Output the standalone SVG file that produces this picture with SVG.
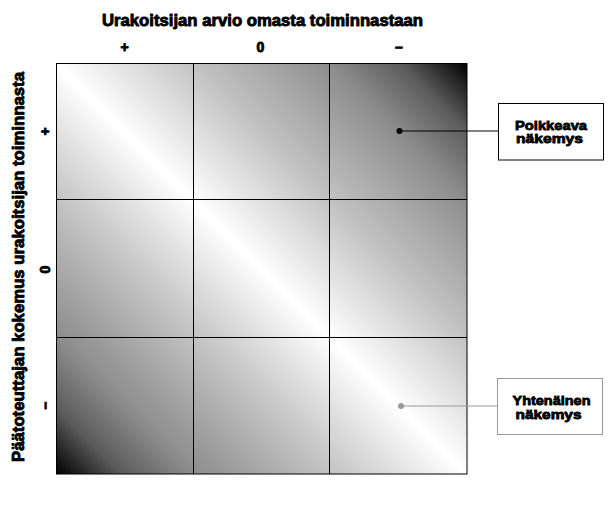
<svg xmlns="http://www.w3.org/2000/svg" width="615" height="513" viewBox="0 0 615 513">
<defs>
<linearGradient id="diag" gradientUnits="userSpaceOnUse" x1="56" y1="474" x2="467" y2="63">
<stop offset="0" stop-color="#000"/>
<stop offset="0.083" stop-color="#5c5c5c"/>
<stop offset="0.167" stop-color="#8c8c8c"/>
<stop offset="0.333" stop-color="#c2c2c2"/>
<stop offset="0.5" stop-color="#fff"/>
<stop offset="0.667" stop-color="#c2c2c2"/>
<stop offset="0.833" stop-color="#8c8c8c"/>
<stop offset="0.917" stop-color="#5c5c5c"/>
<stop offset="1" stop-color="#000"/>
</linearGradient>
</defs>
<style>
text{font-family:"Liberation Sans",Arial,sans-serif;font-weight:bold;fill:#000;stroke:#000;stroke-width:0.9;stroke-linejoin:round;text-anchor:middle}
.ax{font-size:17px}
.tick{font-size:14px}
.lbl{font-size:13px;stroke-width:0.8}
.grid{fill:none;stroke:#000;stroke-width:1}
.box1{fill:#fff;stroke:#000;stroke-width:1}
.box2{fill:#fff;stroke:#999;stroke-width:1}
.c1{stroke:#000;stroke-width:1;fill:none}
.c2{stroke:#999;stroke-width:1;fill:none}
</style>
<rect width="615" height="513" fill="#fff"/>
<g id="matrix">
<rect x="56.5" y="63.5" width="410.5" height="410.5" fill="url(#diag)"/>
<rect class="grid" x="56.5" y="63.5" width="410.5" height="410.5"/>
<line class="grid" x1="193.5" y1="63.5" x2="193.5" y2="474"/>
<line class="grid" x1="329.5" y1="63.5" x2="329.5" y2="474"/>
<line class="grid" x1="56.5" y1="199.5" x2="467" y2="199.5"/>
<line class="grid" x1="56.5" y1="337.5" x2="467" y2="337.5"/>
</g>
<g id="axis-labels">
<text class="ax" x="262.5" y="26" textLength="321" lengthAdjust="spacingAndGlyphs">Urakoitsijan arvio omasta toiminnastaan</text>
<text class="tick" x="124.5" y="52">+</text>
<text class="tick" x="260.5" y="52">0</text>
<text class="tick" x="399" y="52">–</text>
<text class="ax" transform="translate(24,267) rotate(-90)" x="0" y="0" textLength="390" lengthAdjust="spacingAndGlyphs">Päätoteuttajan kokemus urakoitsijan toiminnasta</text>
<text class="tick" transform="translate(50,131.5) rotate(-90)" x="0" y="0">+</text>
<text class="tick" transform="translate(50,269.5) rotate(-90)" x="0" y="0">0</text>
<text class="tick" transform="translate(50,405.5) rotate(-90)" x="0" y="0">–</text>
</g>
<g id="connectors">
<line class="c1" x1="399.5" y1="131" x2="498.5" y2="131"/>
<circle cx="399.5" cy="131" r="3" fill="#000"/>
<line class="c2" x1="401" y1="406" x2="497.5" y2="406"/>
<circle cx="401" cy="406" r="3" fill="#999"/>
</g>
<g id="node-poikkeava">
<rect class="box1" x="498.5" y="103.5" width="105" height="56.5"/>
<text class="lbl" x="551" y="129.5" textLength="72" lengthAdjust="spacingAndGlyphs">Poikkeava</text>
<text class="lbl" x="549.5" y="143" textLength="67" lengthAdjust="spacingAndGlyphs">näkemys</text>
</g>
<g id="node-yhtenainen">
<rect class="box2" x="497.5" y="378.5" width="105" height="56"/>
<text class="lbl" x="551.5" y="404.5" textLength="78" lengthAdjust="spacingAndGlyphs">Yhtenäinen</text>
<text class="lbl" x="548.5" y="418.5" textLength="66" lengthAdjust="spacingAndGlyphs">näkemys</text>
</g>
</svg>
